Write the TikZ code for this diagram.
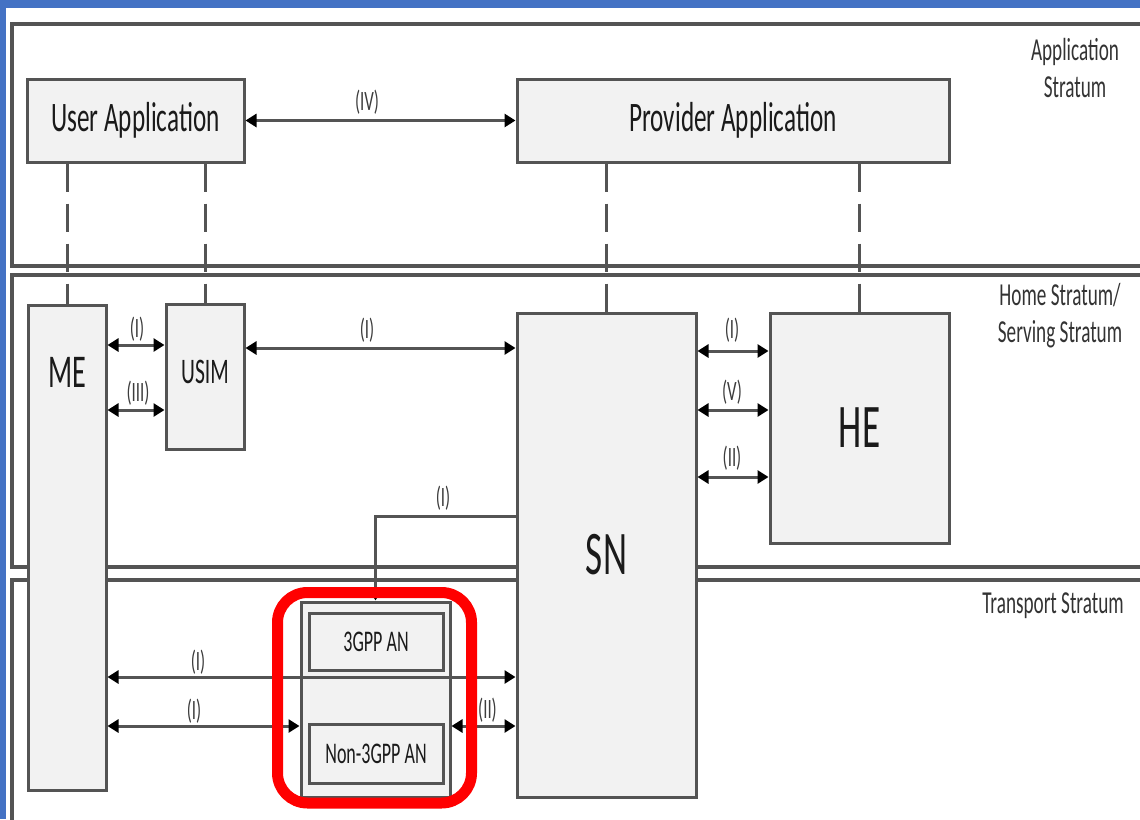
\documentclass[tikz,border=0pt]{standalone}
\usepackage{fontspec}
\setmainfont{Carlito}[FakeStretch=0.6]
\usetikzlibrary{arrows.meta}
\definecolor{linec}{HTML}{545454}
\definecolor{boxfill}{HTML}{F2F2F2}
\definecolor{blueb}{HTML}{4472C4}
\definecolor{txt}{HTML}{1A1A1A}
\definecolor{lbl}{HTML}{3C3C3C}
\definecolor{stl}{HTML}{333333}
\definecolor{hilite}{HTML}{FF0000}
\begin{document}
\begin{tikzpicture}[x=1pt,y=-1pt,
  box/.style={draw=linec, fill=boxfill, line width=3pt, inner sep=0pt, text=txt},
  frame/.style={draw=linec, line width=3.5pt},
  conn/.style={draw=linec, line width=3pt},
  dashconn/.style={draw=linec, line width=3pt, dash pattern=on 28pt off 12pt},
  lab/.style={text=lbl, font=\fontsize{28}{30}\selectfont, inner sep=0pt},
  strat/.style={text=stl, font=\fontsize{32}{36}\selectfont, inner sep=0pt, anchor=base},
  >={Triangle[length=11pt,width=13pt,color=black]}
]
\useasboundingbox (0,0) rectangle (1140,819);
\clip (0,0) rectangle (1140,819);
\fill[white] (0,0) rectangle (1140,819);
\fill[blueb] (0,0) rectangle (1140,8);
\fill[blueb] (0,0) rectangle (6,819);

% strata frames
\draw[frame] (12,24) rectangle (1160,266);
\draw[frame] (12,275) rectangle (1160,567);
\draw[frame] (12,580) rectangle (1160,840);

\node[strat] (st1a) at (1075,60) {Application};
\node[strat] (st1b) at (1075,97) {Stratum};
\node[strat] (st2a) at (1060,305) {Home Stratum/};
\node[strat] (st2b) at (1060,342) {Serving Stratum};
\node[strat] (st3) at (1053,613) {Transport Stratum};

% level coordinates
\coordinate (y345) at (0,345);
\coordinate (y410) at (0,410);
\coordinate (y348) at (0,348);
\coordinate (y351) at (0,351);
\coordinate (y477) at (0,477);
\coordinate (y516) at (0,516);
\coordinate (y677) at (0,677);
\coordinate (y726) at (0,726);

% boxes
\node[box, minimum width=217pt, minimum height=83pt, font=\fontsize{42}{44}\selectfont] (ua) at (135.5,120.5) {User Application};
\node[box, minimum width=432pt, minimum height=83pt, font=\fontsize{42}{44}\selectfont] (pa) at (733,120.5) {Provider Application};
\node[box, minimum width=78pt, minimum height=485pt] (me) at (67,547.5) {};
\node[text=txt, font=\fontsize{47}{50}\selectfont, inner sep=0pt] (metxt) at (67,372) {ME};
\node[box, minimum width=78pt, minimum height=145pt] (usim) at (205,376.5) {};
\node[text=txt, font=\fontsize{36}{38}\selectfont, inner sep=0pt] (usimtxt) at (205,372) {USIM};
\node[box, minimum width=179pt, minimum height=484pt, font=\fontsize{62}{64}\selectfont] (sn) at (606.5,555) {SN};
\node[box, minimum width=179pt, minimum height=230pt, font=\fontsize{62}{64}\selectfont] (he) at (859.5,428) {HE};
\node[box, minimum width=149pt, minimum height=195pt] (an) at (375.5,699.5) {};
\node[box, minimum width=134pt, minimum height=57pt, font=\fontsize{30}{32}\selectfont] (an3) at (376,641.5) {3GPP AN};
\node[box, minimum width=134pt, minimum height=59pt, font=\fontsize{30}{32}\selectfont] (ann) at (376,753.5) {Non-3GPP AN};

% dashed vertical links
\draw[dashconn] (ua.south -| me.north) -- (me.north);
\draw[dashconn] (ua.south -| usim.north) -- (usim.north);
\draw[dashconn] (pa.south -| sn.north) -- (sn.north);
\draw[dashconn] (pa.south -| he.north) -- (he.north);

% connectors
\draw[conn,<->] (ua.east) -- (pa.west);
\node[lab] (l1) at (367,102) {(IV)};

\draw[conn,<->] (me.east |- y345) -- (usim.west |- y345);
\node[lab] (l2) at (137,329) {(I)};
\draw[conn,<->] (me.east |- y410) -- (usim.west |- y410);
\node[lab] (l3) at (138,393) {(III)};

\draw[conn,<->] (usim.east |- y348) -- (sn.west |- y348);
\node[lab] (l4) at (367,330) {(I)};

\draw[conn,<->] (sn.east |- y351) -- (he.west |- y351);
\node[lab] (l5) at (732,330) {(I)};
\draw[conn,<->] (sn.east |- y410) -- (he.west |- y410);
\node[lab] (l6) at (732,392) {(V)};
\draw[conn,<->] (sn.east |- y477) -- (he.west |- y477);
\node[lab] (l7) at (732,458) {(II)};

\draw[conn,->] (sn.west |- y516) -| (an.north);
\node[lab] (l8) at (443,498) {(I)};

\draw[conn,<->] (me.east |- y677) -- (sn.west |- y677);
\node[lab] (l9) at (198,662) {(I)};
\draw[conn,<->] (me.east |- y726) -- (an.west |- y726);
\node[lab] (l10) at (194,711) {(I)};
\draw[conn,<->] (an.east |- y726) -- (sn.west |- y726);
\node[lab] (l11) at (487.5,710) {(II)};

% red highlight
\draw[hilite, line width=11pt, rounded corners=30pt] (277.5,592.5) rectangle (471.5,803);
\end{tikzpicture}
\end{document}
